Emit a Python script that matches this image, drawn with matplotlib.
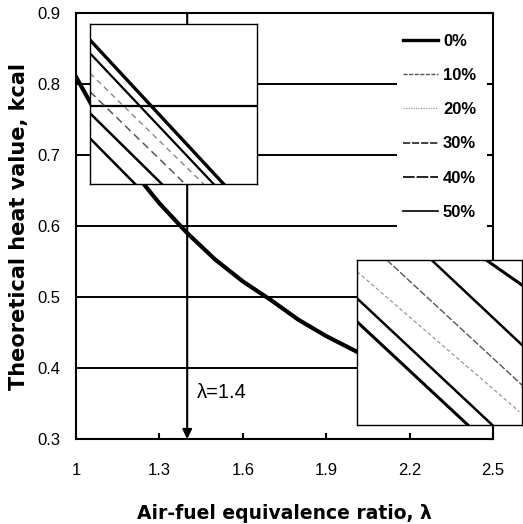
import matplotlib
matplotlib.use("Agg")
import matplotlib.pyplot as plt
from matplotlib.lines import Line2D

plt.rcParams["font.family"] = ["Liberation Sans", "DejaVu Sans"]

# main curve: theoretical heat value vs air-fuel equivalence ratio
lam = [1.0, 1.05, 1.1, 1.2, 1.25, 1.3, 1.4, 1.5, 1.6, 1.7, 1.8, 1.9, 2.0, 2.05, 2.1]
heat = [0.81, 0.775, 0.74, 0.682, 0.656, 0.632, 0.59, 0.553, 0.522, 0.496, 0.468, 0.445, 0.425, 0.415, 0.406]

grid_y = [0.4, 0.5, 0.6, 0.7, 0.8]
x_ticks = [1, 1.3, 1.6, 1.9, 2.2, 2.5]
x_tick_labels = ["1", "1.3", "1.6", "1.9", "2.2", "2.5"]
y_ticks = [0.3, 0.4, 0.5, 0.6, 0.7, 0.8, 0.9]
lam_mark = 1.4

series = ["0%", "10%", "20%", "30%", "40%", "50%"]

# zoomed views (inset coordinates 0..1): start and end points of each series line
top_x0 = [0.0, 0.0, 0.0, 0.0, 0.0, 0.0]
top_y0 = [0.90, 0.817, 0.692, 0.577, 0.442, 0.285]
top_x1 = [0.80, 0.74, 0.68, 0.57, 0.43, 0.27]
top_y1 = [0.0, 0.0, 0.0, 0.0, 0.0, 0.0]
top_ref = 0.4875

low_x0 = [0.783, 0.452, 0.181, 0.0, 0.0, 0.0]
low_y0 = [1.0, 1.0, 1.0, 0.93, 0.768, 0.626]
low_x1 = [1.0, 1.0, 1.0, 0.984, 0.82, 0.672]
low_y1 = [0.848, 0.485, 0.242, 0.081, 0.0, 0.0]

legend_styles = [
    dict(color="black", lw=2.4, ls="-"),
    dict(color="#555555", lw=1.0, ls=(0, (3, 1))),
    dict(color="#999999", lw=0.9, ls=(0, (1, 1))),
    dict(color="#333333", lw=1.3, ls=(0, (4, 1))),
    dict(color="#222222", lw=1.4, ls=(0, (6, 1))),
    dict(color="black", lw=1.2, ls="-"),
]
top_styles = [
    dict(color="black", lw=2.4, ls="-"),
    dict(color="black", lw=1.6, ls="-"),
    dict(color="#888888", lw=1.0, ls=(0, (4, 3))),
    dict(color="#555555", lw=1.1, ls=(0, (5, 3))),
    dict(color="black", lw=1.8, ls="-"),
    dict(color="black", lw=1.8, ls="-"),
]
low_styles = [
    dict(color="black", lw=2.2, ls="-"),
    dict(color="black", lw=1.8, ls="-"),
    dict(color="#555555", lw=1.0, ls=(0, (5, 1.5))),
    dict(color="#999999", lw=0.9, ls=(0, (3, 2))),
    dict(color="black", lw=1.8, ls="-"),
    dict(color="black", lw=2.2, ls="-"),
]

fig = plt.figure(figsize=(5.23, 5.24), dpi=100)
ax = fig.add_axes([0.1453, 0.1622, 0.7973, 0.813])

ax.hlines(grid_y, 1.0, 2.155, color="black", lw=1.4, zorder=1)
ax.plot(lam, heat, color="black", lw=3.0, zorder=3)
ax.annotate("", xy=(lam_mark, 0.3), xytext=(lam_mark, 0.9),
            arrowprops=dict(arrowstyle="-|>", color="black", lw=1.5,
                            mutation_scale=14, shrinkA=0, shrinkB=0),
            zorder=4)
ax.text(lam_mark + 0.035, 0.366, "λ=1.4", fontsize=14.5, va="center", ha="left")

ax.set_xlim(1, 2.5)
ax.set_ylim(0.3, 0.9)
ax.set_xticks(x_ticks)
ax.set_xticklabels(x_tick_labels)
ax.set_yticks(y_ticks)
ax.tick_params(axis="x", direction="in", length=4, width=1.5, pad=17, labelsize=12)
ax.tick_params(axis="y", direction="in", length=4, width=1.5, pad=11.5, labelsize=12,
               left=False, right=True)
for s in ax.spines.values():
    s.set_linewidth(1.5)

ax.set_xlabel("Air-fuel equivalence ratio, λ", fontsize=13.5, fontweight="bold",
              family=["DejaVu Sans"], labelpad=19)
ax.set_ylabel("Theoretical heat value, kcal", fontsize=15, fontweight="bold",
              family=["DejaVu Sans"], labelpad=6)

handles = [Line2D([0], [0], **st) for st in legend_styles]
ax.legend(handles, series, loc="upper left", bbox_to_anchor=(403 / 523, 1 - 34 / 524),
          bbox_transform=fig.transFigure, frameon=False, borderpad=0, borderaxespad=0,
          handlelength=2.1, handletextpad=0.3, labelspacing=1.15,
          prop=dict(size=12, weight="bold"))

# upper-left zoom
ins1 = fig.add_axes([0.1721, 0.6489, 0.3193, 0.3053])
ins1.axhline(top_ref, color="black", lw=1.6)
for i in range(len(series)):
    ins1.plot([top_x0[i], top_x1[i]], [top_y0[i], top_y1[i]], **top_styles[i])
ins1.set_xlim(0, 1)
ins1.set_ylim(0, 1)
ins1.set_xticks([])
ins1.set_yticks([])

# lower-right zoom
ins2 = fig.add_axes([0.6826, 0.1889, 0.3155, 0.3149])
for i in range(len(series)):
    ins2.plot([low_x0[i], low_x1[i]], [low_y0[i], low_y1[i]], **low_styles[i])
ins2.set_xlim(0, 1)
ins2.set_ylim(0, 1)
ins2.set_xticks([])
ins2.set_yticks([])

for a in (ins1, ins2):
    for s in a.spines.values():
        s.set_linewidth(1.0)

fig.savefig("out.png", dpi=100)
